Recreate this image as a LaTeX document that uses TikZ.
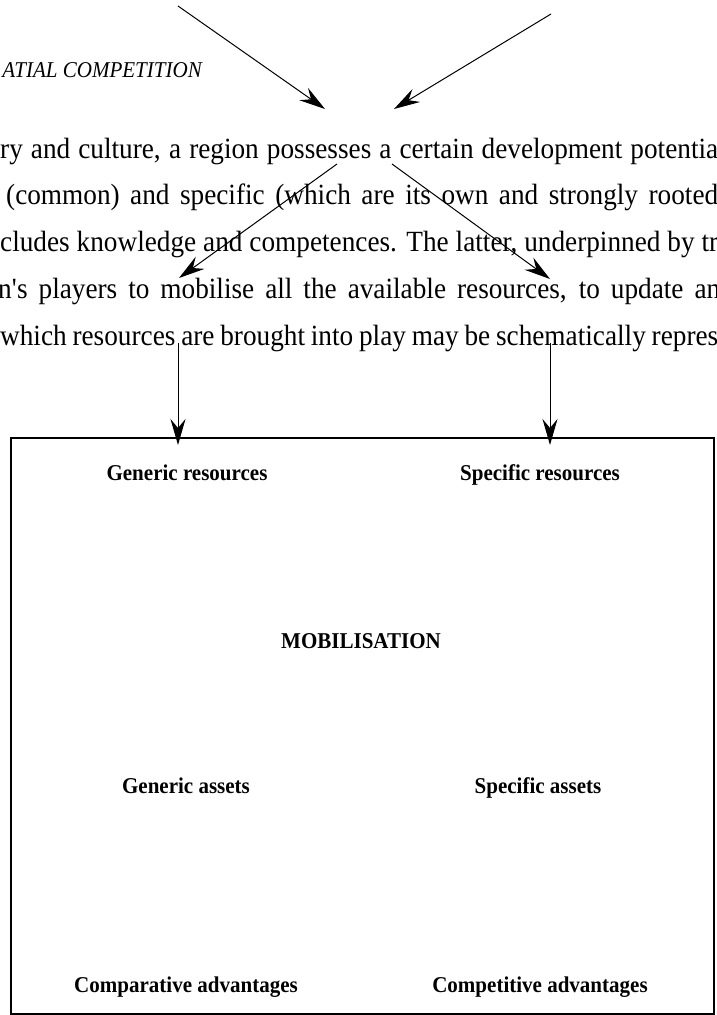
\documentclass[tikz,border=0pt]{standalone}
\usepackage{fontspec}
\setmainfont[FakeStretch=0.93]{Liberation Serif}
\usetikzlibrary{arrows.meta}
\begin{document}
\begin{tikzpicture}[x=1pt,y=-1pt,
  body/.style={anchor=base west,inner sep=0pt,font=\fontsize{29.3}{32}\selectfont},
  lab/.style={anchor=base,inner sep=0pt,font=\bfseries\fontsize{22.6}{25}\selectfont},
  arr/.style={line width=1pt,-{Stealth[length=26pt,width=15pt,inset=9pt]}},
  frame/.style={draw,line width=2.3pt,inner sep=0pt,anchor=north west}
]
\useasboundingbox (0,0) rectangle (716,1015);
\clip (0,0) rectangle (716,1015);

\node[anchor=base east,inner sep=0pt,font=\itshape\fontsize{22.6}{25}\selectfont] (title) at (202,77) {ATIAL COMPETITION};

\node[body] (l1) at (0,158) {\makebox[718pt][s]{ry and culture, a region possesses a certain development potentia}};
\node[body] (l2) at (6,204) {\makebox[712pt][s]{(common) and specific (which are its own and strongly rooted}};
\node[body] (l3) at (0,251) {\makebox[718pt][s]{cludes knowledge and competences. The latter, underpinned by tr}};
\node[body] (l4) at (-2,298) {\makebox[722pt][s]{n\textquotesingle s players to mobilise all the available resources, to update an}};
\node[body] (l5) at (0,345) {\makebox[718pt][s]{which resources are brought into play may be schematically repres}};

\node[frame,minimum width=703pt,minimum height=576pt] (box) at (10,437) {};

\node[lab] (gr) at (187,480) {Generic resources};
\node[lab] (sr) at (540,480) {Specific resources};
\node[lab] (mob) at (361,648) {MOBILISATION};
\node[lab] (ga) at (186,793) {Generic assets};
\node[lab] (sa) at (538,793) {Specific assets};
\node[lab] (ca) at (186,992) {Comparative advantages};
\node[lab] (cpa) at (540,992) {Competitive advantages};

\coordinate (a1s) at (178,6);   \coordinate (a1e) at (325,109);
\coordinate (a2s) at (551,14);  \coordinate (a2e) at (394,109);
\coordinate (a3s) at (337,164); \coordinate (a3e) at (179,278);
\coordinate (a4s) at (392,164); \coordinate (a4e) at (550,279);
\coordinate (a5s) at (178,343); \coordinate (a5e) at (178,445);
\coordinate (a6s) at (550,343); \coordinate (a6e) at (550,445);

\draw[arr] (a1s) -- (a1e);
\draw[arr] (a2s) -- (a2e);
\draw[arr] (a3s) -- (a3e);
\draw[arr] (a4s) -- (a4e);
\draw[arr] (a5s) -- (a5e);
\draw[arr] (a6s) -- (a6e);
\end{tikzpicture}
\end{document}
